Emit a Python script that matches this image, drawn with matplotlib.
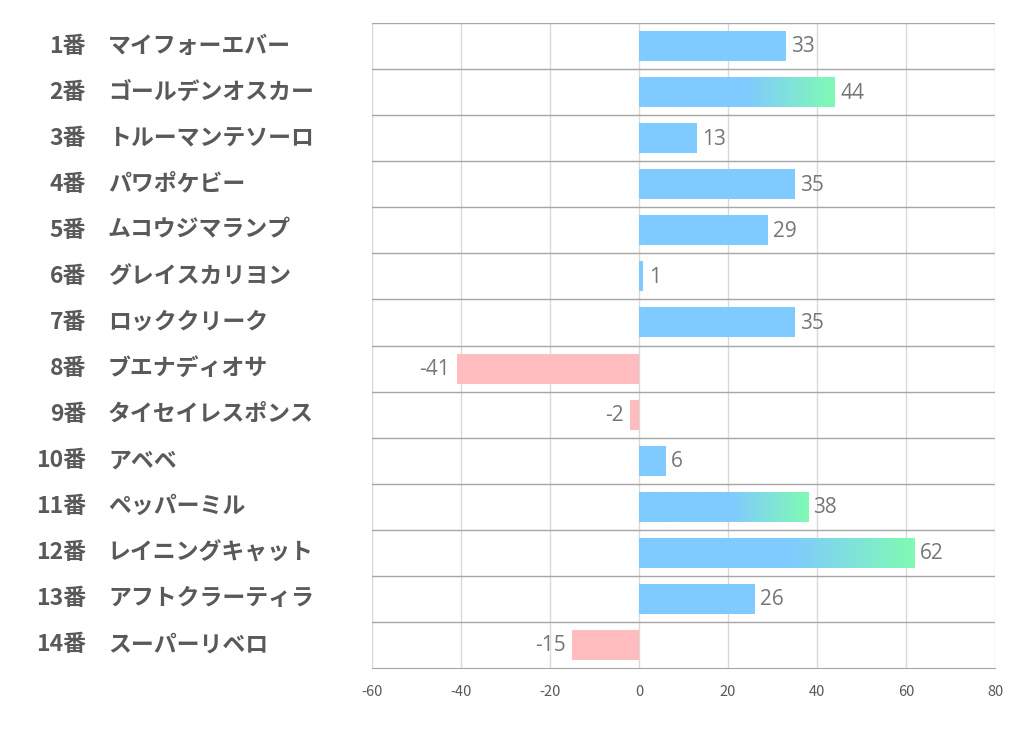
import numpy as np
import matplotlib.pyplot as plt
from matplotlib.colors import LinearSegmentedColormap

plt.rcParams['font.family'] = ['Noto Sans CJK JP', 'DejaVu Sans']

numbers = ['1番', '2番', '3番', '4番', '5番', '6番', '7番', '8番', '9番',
           '10番', '11番', '12番', '13番', '14番']
names = ['マイフォーエバー', 'ゴールデンオスカー', 'トルーマンテソーロ', 'パワポケビー',
         'ムコウジマランプ', 'グレイスカリヨン', 'ロッククリーク', 'ブエナディオサ',
         'タイセイレスポンス', 'アベベ', 'ペッパーミル', 'レイニングキャット',
         'アフトクラーティラ', 'スーパーリベロ']
values = [33, 44, 13, 35, 29, 1, 35, -41, -2, 6, 38, 62, 26, -15]
xticks = [-60, -40, -20, 0, 20, 40, 60, 80]

blue = '#7FCBFF'
green = '#80FAB4'
pink = '#FFBDBF'

# top three get the gradient bars
top3 = sorted(range(len(values)), key=lambda i: values[i], reverse=True)[:3]

fig = plt.figure(figsize=(10.22, 7.30), dpi=100)
ax = fig.add_axes([372 / 1022, 1 - 668 / 730, 623 / 1022, 645 / 730])

n = len(values)
ypos = np.arange(n)
h = 0.65

cmap = LinearSegmentedColormap.from_list('bg', [blue, blue, green], N=256)
grad = np.linspace(0, 1, 256).reshape(1, -1)
grad = np.where(grad < 0.55, 0, (grad - 0.55) / 0.45) * 0.5 + 0.5
grad[grad == 0.5] = 0

vfont = ['Open Sans', 'DejaVu Sans']
for i, v in enumerate(values):
    y = ypos[i]
    if v < 0:
        ax.barh(y, v, height=h, color=pink, zorder=2)
        ax.text(v - 1.5, y + 0.02, str(v), ha='right', va='center', fontsize=15,
                color='#767676', family=vfont)
    else:
        if i in top3:
            ax.imshow(grad, cmap=cmap, vmin=0, vmax=1, aspect='auto',
                      extent=[0, v, y + h / 2, y - h / 2], zorder=2)
        else:
            ax.barh(y, v, height=h, color=blue, zorder=2)
        ax.text(v + 1.2, y + 0.02, str(v), ha='left', va='center', fontsize=15,
                color='#767676', family=vfont)

ax.set_xlim(-60, 80)
ax.set_ylim(n - 0.5, -0.5)
ax.set_aspect('auto')

for x in xticks:
    ax.axvline(x, color='#D9D9D9', lw=1, zorder=1)
for k in range(n):
    ax.axhline(k - 0.5, color='#A6A6A6', lw=1, zorder=1)

for s in ax.spines.values():
    s.set_visible(False)
ax.spines['bottom'].set_visible(True)
ax.spines['bottom'].set_color('#A6A6A6')

ax.set_xticks(xticks)
ax.set_xticklabels([str(t) for t in xticks], fontsize=10.5, color='#595959')
ax.tick_params(axis='x', length=0, pad=12)
ax.set_yticks([])

for i in range(n):
    yf = 1 - (23 + 46.07 * (i + 0.5)) / 730
    fig.text(86 / 1022, yf, numbers[i], ha='right', va='center', fontsize=16.5,
             fontweight='bold', color='#595959')
    fig.text(108 / 1022, yf, names[i], ha='left', va='center', fontsize=16.5,
             fontweight='bold', color='#595959')

fig.savefig('out.png', dpi=100)
